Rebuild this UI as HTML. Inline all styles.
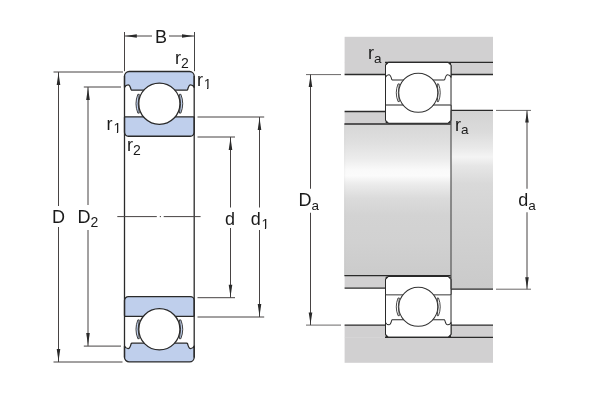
<!DOCTYPE html>
<html><head><meta charset="utf-8"><style>
html,body{margin:0;padding:0;background:#fff;}
svg{display:block;will-change:transform;}
text{font-family:"Liberation Sans",sans-serif;fill:#1a1a1a;}
</style></head><body>
<svg width="600" height="400" viewBox="0 0 600 400">
<rect width="600" height="400" fill="#fff"/>
<g transform="translate(124.5,71.5)"><path d="M0,15.9 V4.6 A4.6,4.6 0 0 1 4.6,0 H65.1 A4.6,4.6 0 0 1 69.7,4.6 V15.9 C68.9,14.3 67.4,13.3 66.1,13.3 C64.6,13.3 63.7,15.8 63.1,18.1 L62.5,18.7 H7.2 L6.6,18.1 C6,15.8 5.1,13.3 3.6,13.3 C2.3,13.3 0.8,14.3 0,15.9 Z" fill="#bfcfec" stroke="#2a2a2a" stroke-width="1.3" stroke-linejoin="round"/>
<path d="M0,46.1 A0.8,0.8 0 0 1 0.8,45.3 H68.9 A0.8,0.8 0 0 1 69.7,46.1 V60.85 A3.9,3.9 0 0 1 65.8,64.75 H3.9 A3.9,3.9 0 0 1 0,60.85 Z" fill="#bfcfec" stroke="#2a2a2a" stroke-width="1.3" stroke-linejoin="round"/>
<path d="M13.35,22.80 A25.44,25.44 0 0 0 13.35,41.60 L14.75,41.60 A40.71,40.71 0 0 1 14.75,22.80 Z" fill="#bfcfec" stroke="#2a2a2a" stroke-width="0.884" stroke-linejoin="round"/>
<path d="M56.35,22.80 A25.44,25.44 0 0 1 56.35,41.60 L54.95,41.60 A40.71,40.71 0 0 0 54.95,22.80 Z" fill="#bfcfec" stroke="#2a2a2a" stroke-width="0.884" stroke-linejoin="round"/>
<circle cx="34.85" cy="32.2" r="20.6" fill="#fff" stroke="#2a2a2a" stroke-width="1.3"/></g>
<g transform="translate(124.5,361.9) scale(1,-1)"><path d="M0,15.9 V4.6 A4.6,4.6 0 0 1 4.6,0 H65.1 A4.6,4.6 0 0 1 69.7,4.6 V15.9 C68.9,14.3 67.4,13.3 66.1,13.3 C64.6,13.3 63.7,15.8 63.1,18.1 L62.5,18.7 H7.2 L6.6,18.1 C6,15.8 5.1,13.3 3.6,13.3 C2.3,13.3 0.8,14.3 0,15.9 Z" fill="#bfcfec" stroke="#2a2a2a" stroke-width="1.3" stroke-linejoin="round"/>
<path d="M0,46.4 A0.8,0.8 0 0 1 0.8,45.6 H68.9 A0.8,0.8 0 0 1 69.7,46.4 V61.4 A3.9,3.9 0 0 1 65.8,65.3 H3.9 A3.9,3.9 0 0 1 0,61.4 Z" fill="#bfcfec" stroke="#2a2a2a" stroke-width="1.3" stroke-linejoin="round"/>
<path d="M13.35,23.20 A25.44,25.44 0 0 0 13.35,42.00 L14.75,42.00 A40.71,40.71 0 0 1 14.75,23.20 Z" fill="#bfcfec" stroke="#2a2a2a" stroke-width="0.884" stroke-linejoin="round"/>
<path d="M56.35,23.20 A25.44,25.44 0 0 1 56.35,42.00 L54.95,42.00 A40.71,40.71 0 0 0 54.95,23.20 Z" fill="#bfcfec" stroke="#2a2a2a" stroke-width="0.884" stroke-linejoin="round"/>
<circle cx="34.85" cy="32.6" r="20.6" fill="#fff" stroke="#2a2a2a" stroke-width="1.3"/></g>
<line x1="124.5" y1="76" x2="124.5" y2="357.5" stroke="#2a2a2a" stroke-width="1.3"/>
<line x1="194.2" y1="76" x2="194.2" y2="357.5" stroke="#2a2a2a" stroke-width="1.3"/>
<line x1="124.5" y1="32" x2="124.5" y2="71.2" stroke="#474343" stroke-width="1"/>
<line x1="194.5" y1="32" x2="194.5" y2="71.2" stroke="#444" stroke-width="1"/>
<line x1="125" y1="36" x2="152" y2="36" stroke="#474343" stroke-width="1"/>
<line x1="169" y1="36" x2="194" y2="36" stroke="#474343" stroke-width="1"/>
<path d="M125.2,36 L136.8,37.8 L136.8,34.2 Z" fill="#2a2a2a"/>
<path d="M193.6,36 L182.0,37.8 L182.0,34.2 Z" fill="#2a2a2a"/>
<path d="M117.3,216.6 H156.8 M159.8,216.6 H161 M163.7,216.6 H200.6" stroke="#474343" stroke-width="1"/>
<line x1="53.5" y1="72" x2="123" y2="72" stroke="#474343" stroke-width="1"/>
<line x1="53.5" y1="362" x2="122.5" y2="362" stroke="#474343" stroke-width="1"/>
<line x1="58.5" y1="72" x2="58.5" y2="206" stroke="#474343" stroke-width="1"/>
<line x1="58.5" y1="227" x2="58.5" y2="362" stroke="#474343" stroke-width="1"/>
<path d="M58.5,72.8 L60.3,85.0 L56.7,85.0 Z" fill="#2a2a2a"/>
<path d="M58.5,361.2 L60.3,349.0 L56.7,349.0 Z" fill="#2a2a2a"/>
<line x1="83.8" y1="87" x2="121" y2="87" stroke="#474343" stroke-width="1"/>
<line x1="83.8" y1="346.1" x2="121" y2="346.1" stroke="#474343" stroke-width="1"/>
<line x1="88" y1="87" x2="88" y2="205" stroke="#474343" stroke-width="1"/>
<line x1="88" y1="230" x2="88" y2="346.1" stroke="#474343" stroke-width="1"/>
<path d="M88,87.8 L89.8,100.0 L86.2,100.0 Z" fill="#2a2a2a"/>
<path d="M88,345.3 L89.8,333.1 L86.2,333.1 Z" fill="#2a2a2a"/>
<line x1="197.5" y1="117" x2="264.2" y2="117" stroke="#474343" stroke-width="1"/>
<line x1="197.5" y1="317" x2="264.2" y2="317" stroke="#474343" stroke-width="1"/>
<line x1="259.5" y1="117" x2="259.5" y2="207.5" stroke="#474343" stroke-width="1"/>
<line x1="259.5" y1="230" x2="259.5" y2="317" stroke="#474343" stroke-width="1"/>
<path d="M259.5,117.8 L261.3,130.0 L257.7,130.0 Z" fill="#2a2a2a"/>
<path d="M259.5,316.2 L261.3,304.0 L257.7,304.0 Z" fill="#2a2a2a"/>
<line x1="197.5" y1="137" x2="235" y2="137" stroke="#474343" stroke-width="1"/>
<line x1="197.5" y1="297.7" x2="235" y2="297.7" stroke="#474343" stroke-width="1"/>
<line x1="230.5" y1="137" x2="230.5" y2="207.5" stroke="#474343" stroke-width="1"/>
<line x1="230.5" y1="228" x2="230.5" y2="297.7" stroke="#474343" stroke-width="1"/>
<path d="M230.5,137.8 L232.3,150.0 L228.7,150.0 Z" fill="#2a2a2a"/>
<path d="M230.5,296.9 L232.3,284.7 L228.7,284.7 Z" fill="#2a2a2a"/>
<text x="154.9" y="42.8" font-size="18">B</text>
<text x="175" y="63.8" font-size="18">r<tspan font-size="14" dy="3.8">2</tspan></text>
<text x="197" y="85.6" font-size="18" clip-path="url(#c1)">r<tspan font-size="14" dx="0.8" dy="3.8">1</tspan></text>
<text x="106.5" y="129.5" font-size="18" clip-path="url(#c2)">r<tspan font-size="14" dx="0.9" dy="3.8">1</tspan></text>
<text x="127" y="150.6" font-size="18">r<tspan font-size="14" dy="4.6">2</tspan></text>
<text x="52" y="223" font-size="18">D</text>
<text x="77.5" y="223" font-size="18">D<tspan font-size="14" dy="3.8">2</tspan></text>
<text x="225.1" y="225" font-size="18">d</text>
<text x="250.7" y="225" font-size="18" clip-path="url(#c3)">d<tspan font-size="14" dx="0.8" dy="3.8">1</tspan></text>
<rect x="344.6" y="36.8" width="148.4" height="25.5" fill="#d1d0d1"/>
<rect x="344.6" y="62" width="40.4" height="12.5" fill="#d1d0d1"/>
<rect x="451" y="62" width="42" height="12.5" fill="#d1d0d1"/>
<rect x="344.6" y="337.3" width="148.4" height="25.5" fill="#d1d0d1"/>
<rect x="344.6" y="325.1" width="40.4" height="12.5" fill="#d1d0d1"/>
<rect x="451" y="325.1" width="42" height="12.5" fill="#d1d0d1"/>
<defs><clipPath id="c1"><rect x="0" y="0" width="600" height="88"/><rect x="207" y="88" width="1.35" height="1"/><rect x="0" y="89" width="600" height="311"/></clipPath><clipPath id="c2"><rect x="0" y="0" width="600" height="132"/><rect x="116.9" y="132" width="1.2" height="1"/><rect x="0" y="133" width="600" height="267"/></clipPath><clipPath id="c3"><rect x="0" y="0" width="600" height="228"/><rect x="264.9" y="228" width="1.2" height="1"/><rect x="0" y="229" width="600" height="171"/></clipPath></defs>
<defs>
<linearGradient id="sh" x1="0" y1="0" x2="0" y2="1">
<stop offset="0" stop-color="#d6d6d6"/><stop offset="0.12" stop-color="#dfdfdf"/>
<stop offset="0.23" stop-color="#ececec"/><stop offset="0.30" stop-color="#f9f9f9"/>
<stop offset="0.34" stop-color="#fbfbfb"/>
<stop offset="0.40" stop-color="#ebebeb"/><stop offset="0.49" stop-color="#dbdbdb"/>
<stop offset="0.60" stop-color="#d3d3d3"/><stop offset="0.78" stop-color="#d1d1d1"/>
<stop offset="1" stop-color="#cbcbcb"/>
</linearGradient>
<linearGradient id="sh2" x1="0" y1="0" x2="0" y2="1">
<stop offset="0" stop-color="#d3d3d3"/><stop offset="0.12" stop-color="#dbdbdb"/>
<stop offset="0.21" stop-color="#e9e9e9"/><stop offset="0.26" stop-color="#f4f4f4"/>
<stop offset="0.31" stop-color="#e6e6e6"/><stop offset="0.41" stop-color="#d9d9d9"/>
<stop offset="0.6" stop-color="#d3d3d3"/><stop offset="1" stop-color="#cacaca"/>
</linearGradient>
</defs>
<rect x="344.2" y="124" width="106.8" height="151.6" fill="url(#sh)"/>
<rect x="344.2" y="124" width="1" height="151.6" fill="#000" opacity="0.04"/>
<rect x="451" y="110.4" width="42" height="178.8" fill="url(#sh2)"/>
<rect x="344.6" y="111.5" width="40.4" height="12.5" fill="#d1d0d1"/>
<rect x="344.6" y="275.6" width="40.4" height="12.5" fill="#d1d0d1"/>
<g transform="translate(385.5,62.3) scale(0.94)"><path d="M0,0 h2.777 v2.777 h-2.777 Z M69.7,0 h-2.777 v2.777 h2.777 Z" fill="#2a2a2a"/>
<path d="M0,64.75 h2.777 v-2.777 h-2.777 Z M69.7,64.75 h-2.777 v-2.777 h2.777 Z" fill="#2a2a2a"/>
<line x1="0" y1="3.085" x2="0" y2="61.665" stroke="#2a2a2a" stroke-width="1.064"/>
<line x1="69.7" y1="3.085" x2="69.7" y2="61.665" stroke="#2a2a2a" stroke-width="1.064"/>
<path d="M0,15.9 V3.085 L 3.085,0 H66.615 L 69.7,3.085 V15.9 C68.9,14.3 67.4,13.3 66.1,13.3 C64.6,13.3 63.7,15.8 63.1,18.1 L62.5,18.7 H7.2 L6.6,18.1 C6,15.8 5.1,13.3 3.6,13.3 C2.3,13.3 0.8,14.3 0,15.9 Z" fill="#fff" stroke="#2a2a2a" stroke-width="1.064" stroke-linejoin="round"/>
<path d="M0,46.1 A0.8,0.8 0 0 1 0.8,45.3 H68.9 A0.8,0.8 0 0 1 69.7,46.1 V61.665 L 66.615,64.75 H3.085 L 0,61.665 Z" fill="#fff" stroke="#2a2a2a" stroke-width="1.064" stroke-linejoin="round"/>
<line x1="0.8" y1="45.3" x2="68.9" y2="45.3" stroke="#8a8a8a" stroke-width="1.064"/>
<path d="M13.35,23.00 A25.44,25.44 0 0 0 13.35,41.80 L14.75,41.80 A40.71,40.71 0 0 1 14.75,23.00 Z" fill="#fff" stroke="#333" stroke-width="0.957" stroke-linejoin="round"/>
<path d="M56.35,23.00 A25.44,25.44 0 0 1 56.35,41.80 L54.95,41.80 A40.71,40.71 0 0 0 54.95,23.00 Z" fill="#fff" stroke="#333" stroke-width="0.957" stroke-linejoin="round"/>
<circle cx="34.85" cy="32.4" r="20.75" fill="#fff" stroke="#333" stroke-width="1.064"/></g>
<g transform="translate(385.5,337.3) scale(0.94,-0.94)"><path d="M0,0 h2.777 v2.777 h-2.777 Z M69.7,0 h-2.777 v2.777 h2.777 Z" fill="#2a2a2a"/>
<path d="M0,64.75 h2.777 v-2.777 h-2.777 Z M69.7,64.75 h-2.777 v-2.777 h2.777 Z" fill="#2a2a2a"/>
<line x1="0" y1="3.085" x2="0" y2="61.665" stroke="#2a2a2a" stroke-width="1.064"/>
<line x1="69.7" y1="3.085" x2="69.7" y2="61.665" stroke="#2a2a2a" stroke-width="1.064"/>
<path d="M0,15.9 V3.085 L 3.085,0 H66.615 L 69.7,3.085 V15.9 C68.9,14.3 67.4,13.3 66.1,13.3 C64.6,13.3 63.7,15.8 63.1,18.1 L62.5,18.7 H7.2 L6.6,18.1 C6,15.8 5.1,13.3 3.6,13.3 C2.3,13.3 0.8,14.3 0,15.9 Z" fill="#fff" stroke="#2a2a2a" stroke-width="1.064" stroke-linejoin="round"/>
<path d="M0,46.1 A0.8,0.8 0 0 1 0.8,45.3 H68.9 A0.8,0.8 0 0 1 69.7,46.1 V61.665 L 66.615,64.75 H3.085 L 0,61.665 Z" fill="#fff" stroke="#2a2a2a" stroke-width="1.064" stroke-linejoin="round"/>
<line x1="0.8" y1="45.3" x2="68.9" y2="45.3" stroke="#8a8a8a" stroke-width="1.064"/>
<path d="M13.35,23.00 A25.44,25.44 0 0 0 13.35,41.80 L14.75,41.80 A40.71,40.71 0 0 1 14.75,23.00 Z" fill="#fff" stroke="#333" stroke-width="0.957" stroke-linejoin="round"/>
<path d="M56.35,23.00 A25.44,25.44 0 0 1 56.35,41.80 L54.95,41.80 A40.71,40.71 0 0 0 54.95,23.00 Z" fill="#fff" stroke="#333" stroke-width="0.957" stroke-linejoin="round"/>
<circle cx="34.85" cy="32.4" r="20.75" fill="#fff" stroke="#333" stroke-width="1.064"/></g>
<line x1="385" y1="62.3" x2="493" y2="62.3" stroke="#2a2a2a" stroke-width="1.3"/>
<line x1="385" y1="337.3" x2="493" y2="337.3" stroke="#2a2a2a" stroke-width="1.3"/>
<line x1="344.6" y1="74.5" x2="385" y2="74.5" stroke="#2a2a2a" stroke-width="1.3"/>
<line x1="451" y1="74.5" x2="493" y2="74.5" stroke="#2a2a2a" stroke-width="1.3"/>
<line x1="344.6" y1="325.1" x2="385" y2="325.1" stroke="#2a2a2a" stroke-width="1.3"/>
<line x1="451" y1="325.1" x2="493" y2="325.1" stroke="#2a2a2a" stroke-width="1.3"/>
<line x1="344.6" y1="111.5" x2="385" y2="111.5" stroke="#2a2a2a" stroke-width="1.3"/>
<line x1="344.6" y1="288.1" x2="385" y2="288.1" stroke="#2a2a2a" stroke-width="1.3"/>
<line x1="344.4" y1="124" x2="451" y2="124" stroke="#2a2a2a" stroke-width="1.3"/>
<line x1="344.4" y1="275.6" x2="451" y2="275.6" stroke="#2a2a2a" stroke-width="1.3"/>
<line x1="451" y1="110.4" x2="493" y2="110.4" stroke="#2a2a2a" stroke-width="1.3"/>
<line x1="451" y1="289.2" x2="493" y2="289.2" stroke="#2a2a2a" stroke-width="1.3"/>
<line x1="451" y1="110.4" x2="451" y2="289.2" stroke="#555" stroke-width="1.2"/>
<line x1="306" y1="74.6" x2="341" y2="74.6" stroke="#6a6868" stroke-width="1"/>
<line x1="306" y1="325.1" x2="341" y2="325.1" stroke="#6a6868" stroke-width="1"/>
<line x1="310.5" y1="74.5" x2="310.5" y2="188.75" stroke="#474343" stroke-width="1"/>
<line x1="310.5" y1="212.75" x2="310.5" y2="325.1" stroke="#474343" stroke-width="1"/>
<path d="M310.5,75.3 L312.3,87.0 L308.7,87.0 Z" fill="#2a2a2a"/>
<path d="M310.5,324.3 L312.3,312.6 L308.7,312.6 Z" fill="#2a2a2a"/>
<line x1="496" y1="110.4" x2="531" y2="110.4" stroke="#6a6868" stroke-width="1"/>
<line x1="496" y1="289.2" x2="531" y2="289.2" stroke="#6a6868" stroke-width="1"/>
<line x1="527" y1="110.4" x2="527" y2="188.75" stroke="#474343" stroke-width="1"/>
<line x1="527" y1="212.25" x2="527" y2="289.2" stroke="#474343" stroke-width="1"/>
<path d="M527,111.2 L528.8,122.4 L525.2,122.4 Z" fill="#2a2a2a"/>
<path d="M527,288.4 L528.8,277.2 L525.2,277.2 Z" fill="#2a2a2a"/>
<text x="298.5" y="206" font-size="18">D<tspan font-size="13.5" dy="3.8">a</tspan></text>
<text x="518.2" y="206.3" font-size="18">d<tspan font-size="13.5" dy="3.8">a</tspan></text>
<text x="368.0" y="59.3" font-size="18">r<tspan font-size="13.5" dy="3.8">a</tspan></text>
<text x="454.9" y="130.5" font-size="18">r<tspan font-size="13.5" dy="3.8">a</tspan></text>
</svg>
</body></html>
